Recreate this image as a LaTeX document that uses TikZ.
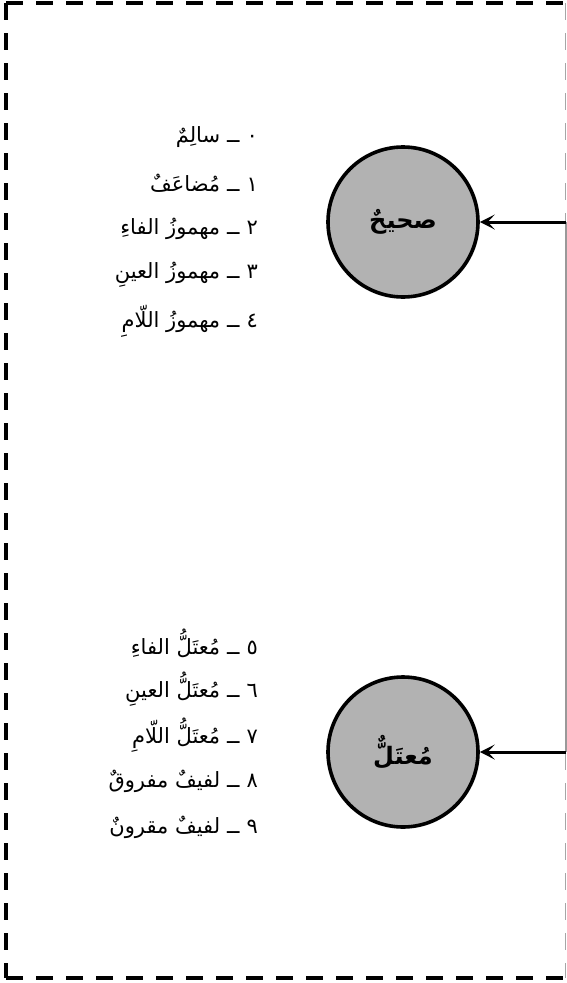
\documentclass[tikz,border=0pt]{standalone}
\usepackage{fontspec}
\usetikzlibrary{arrows.meta}
\TeXXeTstate=1
\newfontfamily\arabicfont[Script=Arabic]{DejaVu Sans}
\newcommand{\sepdash}{\hspace{7pt}ــ\hspace{7pt}}
\tikzset{
  frame/.style={line width=3.8pt, dash pattern=on 17pt off 13pt},
  cat/.style={circle, draw=black, line width=3.6pt, fill=black!30, minimum size=150pt, inner sep=0pt, font=\arabicfont\bfseries\fontsize{24}{28}\selectfont},
  item/.style={anchor=east, inner sep=0pt, font=\arabicfont\fontsize{21}{26}\selectfont},
  feed/.style={line width=3pt, -{Stealth[length=15pt, width=15pt, inset=7pt]}},
  trunk/.style={line width=1.2pt, draw=black!40}
}
\begin{document}
\begin{tikzpicture}[x=1pt, y=-1pt]
\useasboundingbox (0,0) rectangle (567,983);
% frame
\draw[frame] (6,3) -- (580,3);
\draw[frame] (6,3) -- (6,978);
\draw[frame] (6,978) -- (580,978);
\draw[line width=1pt, draw=black!35, dash pattern=on 17pt off 13pt] (565.5,3) -- (565.5,978);
% circles
\node[cat] (c1) at (403,222) {\beginR صحيحٌ\endR};
\node[cat] (c2) at (403,752) {\beginR مُعتَلٌّ\endR};
% connectors
\coordinate (a1) at (566,222);
\coordinate (a2) at (566,752);
\draw[trunk] (a1) -- (a2);
\draw[feed] (a1) -- (c1);
\draw[feed] (a2) -- (c2);
% lists
\node[item] (l0) at (258,137) {\beginR ٠\sepdash سالِمٌ\endR};
\node[item] (l1) at (258,183) {\beginR ١\sepdash مُضاعَفٌ\endR};
\node[item] (l2) at (258,229) {\beginR ٢\sepdash مهموزُ الفاءِ\endR};
\node[item] (l3) at (258,275) {\beginR ٣\sepdash مهموزُ العينِ\endR};
\node[item] (l4) at (258,321) {\beginR ٤\sepdash مهموزُ اللّامِ\endR};
\node[item] (l5) at (258,643) {\beginR ٥\sepdash مُعتَلُّ الفاءِ\endR};
\node[item] (l6) at (258,689) {\beginR ٦\sepdash مُعتَلُّ العينِ\endR};
\node[item] (l7) at (258,735) {\beginR ٧\sepdash مُعتَلُّ اللّامِ\endR};
\node[item] (l8) at (258,781) {\beginR ٨\sepdash لفيفٌ مفروقٌ\endR};
\node[item] (l9) at (258,827) {\beginR ٩\sepdash لفيفٌ مقرونٌ\endR};
\end{tikzpicture}
\end{document}
